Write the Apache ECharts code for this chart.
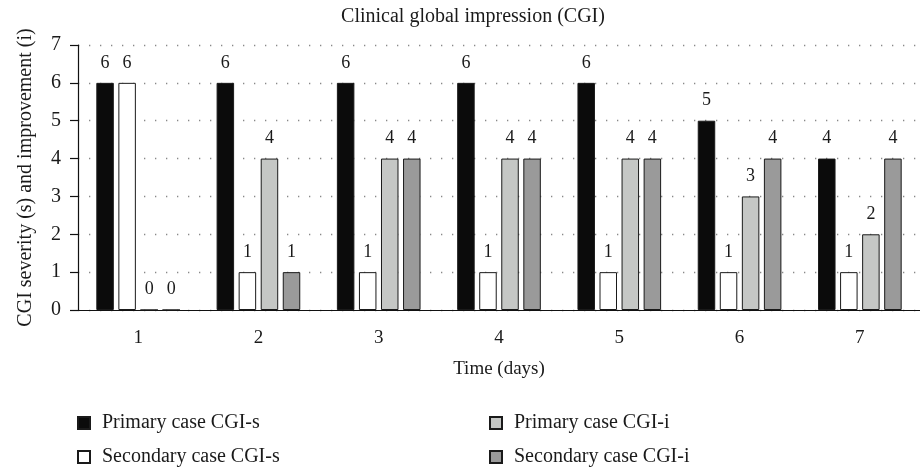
<!DOCTYPE html>
<html>
<head>
<meta charset="utf-8">
<script src="https://cdn.jsdelivr.net/npm/echarts@6/dist/echarts.min.js"></script>
<style>html,body{margin:0;padding:0;background:#fff;}#c{width:920px;height:470px;}</style>
</head>
<body>
<div id="c"></div>
<script>
var days = ['1', '2', '3', '4', '5', '6', '7'];
var primaryS = [6, 6, 6, 6, 6, 5, 4];
var secondaryS = [6, 1, 1, 1, 1, 1, 1];
var primaryI = [0, 4, 4, 4, 4, 3, 2];
var secondaryI = [0, 1, 4, 4, 4, 4, 4];
var yTicks = [0, 1, 2, 3, 4, 5, 6, 7];
var seriesNames = ['Primary case CGI-s', 'Secondary case CGI-s', 'Primary case CGI-i', 'Secondary case CGI-i'];

var FONT = 'Liberation Serif';
var chart = echarts.init(document.getElementById('c'));

function bar(name, data, color) {
  return {
    name: name,
    type: 'bar',
    data: data,
    barWidth: 17.5,
    barGap: '26%',
    itemStyle: { color: color, borderColor: '#1a1a1a', borderWidth: 1 },
    label: {
      show: true, position: 'top', distance: 11,
      fontFamily: FONT, fontSize: 18, color: '#1a1a1a'
    },
    emphasis: { disabled: true }
  };
}

function leg(name, left, top) {
  return {
    data: [name], left: left, top: top, padding: 0,
    itemWidth: 12, itemHeight: 12, icon: 'rect',
    textStyle: { fontFamily: FONT, fontSize: 20, color: '#1a1a1a', padding: [0, 0, 0, 7] }
  };
}

chart.setOption({
  animation: false,
  backgroundColor: '#fff',
  title: {
    text: 'Clinical global impression (CGI)',
    left: 468, textAlign: 'center', top: 2,
    textStyle: { fontFamily: FONT, fontSize: 20, fontWeight: 'normal', color: '#1a1a1a' }
  },
  grid: { left: 78, top: 45, width: 848, bottom: 160, containLabel: false },
  legend: [
    leg(seriesNames[0], 77, 413),
    leg(seriesNames[1], 77, 447),
    leg(seriesNames[2], 489, 413),
    leg(seriesNames[3], 489, 447)
  ],
  xAxis: {
    type: 'category',
    data: days,
    name: 'Time (days)',
    nameLocation: 'middle',
    nameGap: 50,
    nameTextStyle: { fontFamily: FONT, fontSize: 19, color: '#1a1a1a' },
    axisLine: { lineStyle: { color: '#111', width: 1.2 } },
    axisTick: { show: false },
    axisLabel: { fontFamily: FONT, fontSize: 19, color: '#1a1a1a', margin: 19 },
    splitLine: { show: false }
  },
  yAxis: {
    type: 'value',
    min: yTicks[0], max: yTicks[yTicks.length - 1], interval: 1,
    name: 'CGI severity (s) and improvement (i)',
    nameLocation: 'middle',
    nameGap: 42,
    nameTextStyle: { fontFamily: FONT, fontSize: 20, color: '#1a1a1a' },
    axisLine: { show: true, lineStyle: { color: '#111', width: 1.2 } },
    axisTick: { show: true, length: 8, lineStyle: { color: '#111', width: 1.2 } },
    axisLabel: { fontFamily: FONT, fontSize: 20, color: '#1a1a1a', margin: 17 },
    splitLine: { show: true, lineStyle: { color: '#888', width: 1.3, type: [1.3, 9.7] } }
  },
  series: [
    bar(seriesNames[0], primaryS, '#0b0b0b'),
    bar(seriesNames[1], secondaryS, '#ffffff'),
    bar(seriesNames[2], primaryI, '#c5c7c5'),
    bar(seriesNames[3], secondaryI, '#9a9a9a')
  ]
});
</script>
</body>
</html>
